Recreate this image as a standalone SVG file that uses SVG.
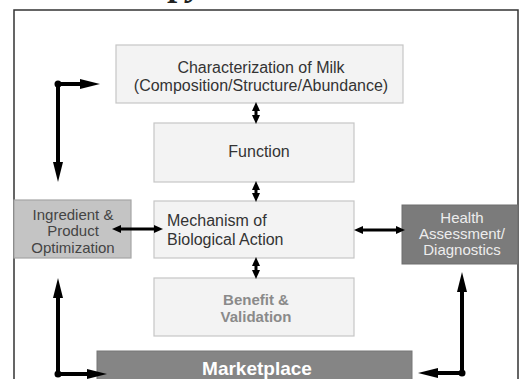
<svg xmlns="http://www.w3.org/2000/svg" width="522" height="379" viewBox="0 0 522 379">
<style>
.box{fill:#f3f3f3;stroke:#c6c6c6;stroke-width:1.2}
.t{font-family:"Liberation Sans",Arial,sans-serif;font-size:16px;fill:#333;text-anchor:middle}
.l{text-anchor:start}
.s{font-size:15px}
.b{font-weight:bold}
.big{stroke:#000;stroke-width:4;fill:none}
.sm{stroke:#000;stroke-width:3;fill:none}
</style>
<defs>
<marker id="ab" viewBox="0 0 20 10" markerWidth="20" markerHeight="10" refX="4" refY="5" orient="auto-start-reverse" markerUnits="userSpaceOnUse"><path d="M0,0 L20,5 L0,10 z" fill="#000"/></marker>
<marker id="as" viewBox="0 0 9 8" markerWidth="9" markerHeight="8" refX="2" refY="4" orient="auto-start-reverse" markerUnits="userSpaceOnUse"><path d="M0,0 L9,4 L0,8 z" fill="#000"/></marker>
</defs>
<rect width="522" height="379" fill="#fff"/>
<text x="170" y="-5" font-family="'Liberation Serif',serif" font-size="36" font-weight="bold" font-style="italic" fill="#222">py</text>
<path d="M14,381 L14,10 L518,10 L518,381" fill="none" stroke="#333" stroke-width="1.5"/>

<g id="characterization">
<rect class="box" x="116" y="45" width="287" height="58"/>
<text class="t" x="261" y="73">Characterization of Milk</text>
<text class="t" x="261" y="91">(Composition/Structure/Abundance)</text>
</g>
<g id="function">
<rect class="box" x="154" y="123" width="200" height="59"/>
<text class="t" x="259" y="157">Function</text>
</g>
<g id="mechanism">
<rect class="box" x="154" y="201" width="200" height="57"/>
<text class="t l" x="167" y="226">Mechanism of</text>
<text class="t l" x="167" y="245">Biological Action</text>
</g>
<g id="benefit">
<rect class="box" x="154" y="278" width="200" height="58"/>
<text class="t s b" x="256" y="305" style="fill:#8a8a8a">Benefit &amp;</text>
<text class="t s b" x="256" y="322" style="fill:#8a8a8a">Validation</text>
</g>
<g id="ingredient">
<rect x="14" y="200" width="117" height="58" fill="#c4c4c4" stroke="#a6a6a6" stroke-width="1.2"/>
<text class="t s" x="73" y="220" style="fill:#444">Ingredient &amp;</text>
<text class="t s" x="73" y="236" style="fill:#444">Product</text>
<text class="t s" x="73" y="253" style="fill:#444">Optimization</text>
</g>
<g id="health">
<rect x="402" y="205" width="116" height="59" fill="#7b7b7b" stroke="#6e6e6e" stroke-width="1"/>
<text class="t s" x="462" y="223" style="fill:#ededed">Health</text>
<text class="t s" x="462" y="239" style="fill:#ededed">Assessment/</text>
<text class="t s" x="462" y="255" style="fill:#ededed">Diagnostics</text>
</g>
<g id="marketplace">
<rect x="97" y="351" width="315" height="32" fill="#858585" stroke="#777" stroke-width="1"/>
<text class="t b" x="257" y="375" style="font-size:19px;fill:#fff">Marketplace</text>
</g>

<g id="connectors">
<path class="sm" d="M256,109 L256,117" marker-start="url(#as)" marker-end="url(#as)"/>
<path class="sm" d="M256,188 L256,195" marker-start="url(#as)" marker-end="url(#as)"/>
<path class="sm" d="M256,264 L256,272" marker-start="url(#as)" marker-end="url(#as)"/>
<path class="sm" d="M119,229 L156,229" marker-start="url(#as)" marker-end="url(#as)"/>
<path class="sm" d="M361,230 L398,230" marker-start="url(#as)" marker-end="url(#as)"/>
<path class="big" d="M84,84 L58,84 L58,166" marker-start="url(#ab)" marker-end="url(#ab)"/>
<circle cx="58" cy="84" r="3.5" fill="#000"/>
<path class="big" d="M58,294 L58,374 L91,374" marker-start="url(#ab)" marker-end="url(#ab)"/>
<circle cx="58" cy="374" r="3.5" fill="#000"/>
<path class="big" d="M462,288 L462,373 L434,373" marker-start="url(#ab)" marker-end="url(#ab)"/>
<circle cx="462" cy="373" r="3.5" fill="#000"/>
</g>
</svg>
